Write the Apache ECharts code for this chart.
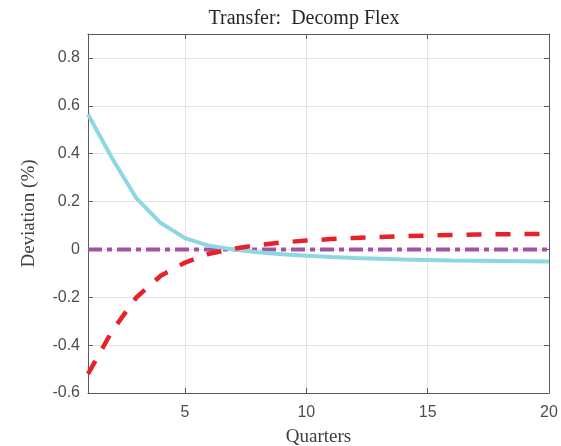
<!DOCTYPE html>
<html>
<head>
<meta charset="utf-8">
<style>
  html, body { margin: 0; padding: 0; background: #fff; }
  #chart { width: 561px; height: 446px; }
</style>
<script src="https://cdn.jsdelivr.net/npm/echarts@6/dist/echarts.min.js"></script>
</head>
<body>
<div id="chart"></div>
<script>
// Impulse responses, quarters 1..20
const quarters = [1, 2, 3, 4, 5, 6, 7, 8, 9, 10, 11, 12, 13, 14, 15, 16, 17, 18, 19, 20];
const cyanSeries = [0.565, 0.38, 0.213, 0.11, 0.047, 0.015, 0.0, -0.012, -0.02, -0.027,
                    -0.032, -0.036, -0.039, -0.042, -0.044, -0.046, -0.047, -0.048, -0.049, -0.051];
const redSeries = [-0.52, -0.34, -0.2, -0.11, -0.055, -0.018, 0.003, 0.018, 0.029, 0.037,
                   0.043, 0.048, 0.052, 0.055, 0.058, 0.06, 0.062, 0.063, 0.064, 0.065];
const purpleSeries = [0, 0, 0, 0, 0, 0, 0, 0, 0, 0, 0, 0, 0, 0, 0, 0, 0, 0, 0, 0];
const xTicks = [5, 10, 15, 20];
const yTicks = [-0.6, -0.4, -0.2, 0, 0.2, 0.4, 0.6, 0.8];

const pairs = (ys) => quarters.map((q, i) => [q, ys[i]]);

const axisColor = '#5a5a5a';
const labelColor = '#4d4d4d';
const gridColor = '#e3e3e3';

function xAxis(showLabels, position) {
  return {
    type: 'value', min: 1, max: 20, position: position,
    axisLine: { show: true, onZero: false, lineStyle: { color: axisColor, width: 1 } },
    axisTick: { show: true, inside: true, length: 5, customValues: xTicks, lineStyle: { color: axisColor } },
    axisLabel: { show: showLabels, customValues: xTicks, color: labelColor, fontFamily: 'Liberation Sans', fontSize: 16, margin: 12 },
    splitLine: { show: showLabels, lineStyle: { color: gridColor, width: 1 } },
    name: showLabels ? 'Quarters' : '', nameLocation: 'middle', nameGap: 35,
    nameTextStyle: { fontFamily: 'Liberation Serif', fontSize: 19, color: '#404040' }
  };
}
function yAxis(showLabels, position) {
  return {
    type: 'value', min: -0.6, max: 0.9, position: position,
    axisLine: { show: true, onZero: false, lineStyle: { color: axisColor, width: 1 } },
    axisTick: { show: true, inside: true, length: 5, customValues: yTicks, lineStyle: { color: axisColor } },
    axisLabel: {
      show: showLabels, customValues: yTicks, color: labelColor, fontFamily: 'Liberation Sans', fontSize: 16, margin: 8,
      formatter: (v) => (Math.abs(v) < 1e-9 ? '0' : String(Math.round(v * 10) / 10))
    },
    splitLine: { show: showLabels, lineStyle: { color: gridColor, width: 1 } },
    name: showLabels ? 'Deviation (%)' : '', nameLocation: 'middle', nameGap: 49, nameRotate: 90,
    nameTextStyle: { fontFamily: 'Liberation Serif', fontSize: 19, color: '#404040' }
  };
}

const chart = echarts.init(document.getElementById('chart'), null, { renderer: 'canvas' });
chart.setOption({
  animation: false,
  backgroundColor: '#ffffff',
  title: {
    text: 'Transfer:  Decomp Flex', left: 299, top: 4, textAlign: 'center',
    textStyle: { fontFamily: 'Liberation Serif', fontSize: 20, fontWeight: 'normal', color: '#262626' }
  },
  grid: { left: 88, right: 12, top: 34, bottom: 53, containLabel: false, outerBoundsMode: 'none' },
  xAxis: [xAxis(true, 'bottom'), xAxis(false, 'top')],
  yAxis: [yAxis(true, 'left'), yAxis(false, 'right')],
  series: [
    {
      type: 'line', data: pairs(purpleSeries), showSymbol: false, z: 2,
      lineStyle: { color: '#a1559e', width: 4, type: [14, 5, 5, 5] }
    },
    {
      type: 'line', data: pairs(cyanSeries), showSymbol: false, z: 3,
      lineStyle: { color: '#8fd6e3', width: 4 }
    },
    {
      type: 'line', data: pairs(redSeries), showSymbol: false, z: 4,
      lineStyle: { color: '#e8202a', width: 4.5, type: [15, 14] }
    }
  ]
});
</script>
</body>
</html>
